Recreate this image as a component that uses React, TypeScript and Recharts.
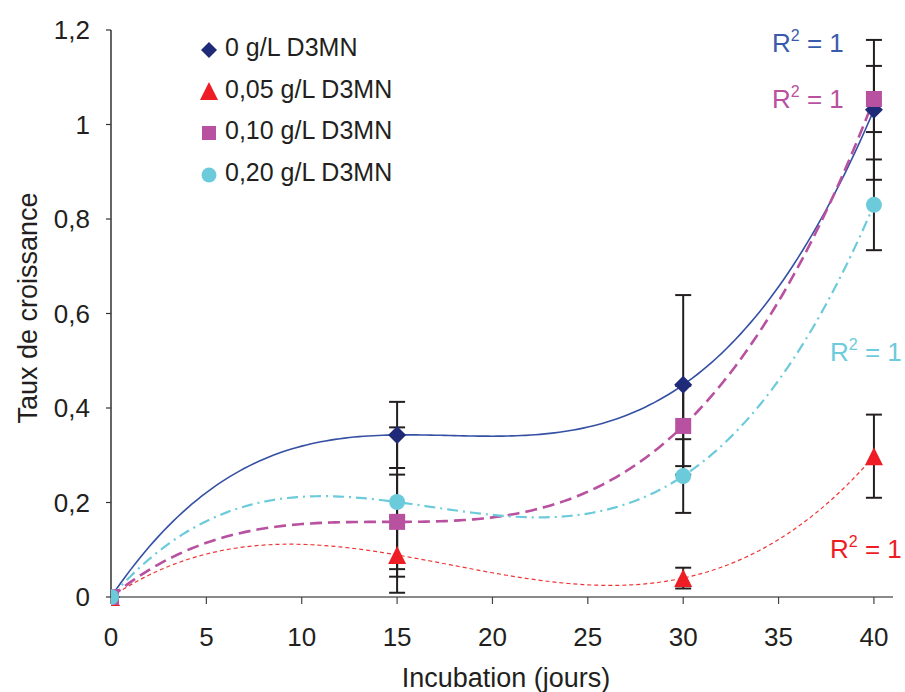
import React from 'react';
import { ComposedChart, Line, Scatter, XAxis, YAxis, ErrorBar } from 'recharts';

// ---- data ----
const days = [0, 15, 30, 40];
const s0Values = [0, 0.343, 0.449, 1.031];
const s0Errors = [0, 0.07, 0.19, 0.148];
const s005Values = [0, 0.089, 0.04, 0.298];
const s005Errors = [0, 0.08, 0.022, 0.088];
const s010Values = [0, 0.159, 0.362, 1.054];
const s010Errors = [0, 0.1, 0.085, 0.07];
const s020Values = [0, 0.201, 0.256, 0.83];
const s020Errors = [0, 0.158, 0.078, 0.096];

const seriesNames = ['0 g/L D3MN', '0,05 g/L D3MN', '0,10 g/L D3MN', '0,20 g/L D3MN'];
const xTicks = [0, 5, 10, 15, 20, 25, 30, 35, 40];
const yTicks = [0, 0.2, 0.4, 0.6, 0.8, 1, 1.2];

const FONT = '"Liberation Sans", Arial, Helvetica, sans-serif';
const TEXT = '#231f20';

// polynomial (order 3) trendline, as the original spreadsheet computes it
function polyFit(xs: number[], ys: number[], order: number): number[] {
  const n = order + 1;
  const A: number[][] = [];
  for (let r = 0; r < n; r++) {
    const row: number[] = [];
    for (let c = 0; c < n; c++) {
      let s = 0;
      xs.forEach((x) => (s += Math.pow(x, r + c)));
      row.push(s);
    }
    let b = 0;
    xs.forEach((x, i) => (b += ys[i] * Math.pow(x, r)));
    row.push(b);
    A.push(row);
  }
  for (let i = 0; i < n; i++) {
    let p = i;
    for (let k = i + 1; k < n; k++) if (Math.abs(A[k][i]) > Math.abs(A[p][i])) p = k;
    [A[i], A[p]] = [A[p], A[i]];
    for (let k = i + 1; k < n; k++) {
      const f = A[k][i] / A[i][i];
      for (let c = i; c <= n; c++) A[k][c] -= f * A[i][c];
    }
  }
  const coef = new Array(n).fill(0);
  for (let i = n - 1; i >= 0; i--) {
    let s = A[i][n];
    for (let c = i + 1; c < n; c++) s -= A[i][c] * coef[c];
    coef[i] = s / A[i][i];
  }
  return coef;
}

function trend(ys: number[]) {
  const coef = polyFit(days, ys, 3);
  const out: { x: number; y: number }[] = [];
  for (let i = 0; i <= 160; i++) {
    const x = (i * 40) / 160;
    let y = 0;
    coef.forEach((c, k) => (y += c * Math.pow(x, k)));
    out.push({ x, y });
  }
  return out;
}

function points(ys: number[], errs: number[]) {
  return days.map((d, i) => ({ x: d, y: ys[i], err: errs[i] }));
}

const COLORS = {
  blueLine: '#3550a3',
  blueMark: '#1f2a78',
  red: '#ee1c24',
  redLine: '#ef3535',
  magenta: '#b8519f',
  cyan: '#6ccbdb',
};

const Diamond = ({ cx, cy, r = 9 }: any) => (
  <polygon points={`${cx},${cy - r} ${cx + r},${cy} ${cx},${cy + r} ${cx - r},${cy}`} fill={COLORS.blueMark} />
);
const Triangle = ({ cx, cy, r = 9 }: any) => (
  <polygon points={`${cx},${cy - r} ${cx + r},${cy + r} ${cx - r},${cy + r}`} fill={COLORS.red} />
);
const Square = ({ cx, cy, r = 8 }: any) => (
  <rect x={cx - r} y={cy - r} width={2 * r} height={2 * r} fill={COLORS.magenta} />
);
const Circle = ({ cx, cy, r = 8 }: any) => <circle cx={cx} cy={cy} r={r} fill={COLORS.cyan} />;
const Nothing = () => <g />;

const yFmt = (v: number) => String(v).replace('.', ',');

export default function App() {
  const d0 = points(s0Values, s0Errors);
  const d005 = points(s005Values, s005Errors);
  const d010 = points(s010Values, s010Errors);
  const d020 = points(s020Values, s020Errors);

  return (
    <div style={{ position: 'absolute', left: 0, top: 0, width: 905, height: 692, background: '#fff', fontFamily: FONT }}>
      <ComposedChart width={905} height={692} margin={{ top: 30, right: 12, bottom: 35, left: 11 }}>
        <XAxis
          type="number"
          dataKey="x"
          domain={[0, 41]}
          allowDataOverflow
          ticks={xTicks}
          interval={0}
          tickSize={7}
          tickMargin={24}
          height={60}
          axisLine={{ stroke: '#8a8a8a', strokeWidth: 2 }}
          tickLine={{ stroke: '#444', strokeWidth: 1.2 }}
          tick={{ fill: TEXT, fontSize: 26, fontFamily: FONT }}
        />
        <YAxis
          type="number"
          domain={[0, 1.2]}
          ticks={yTicks}
          interval={0}
          width={100}
          tickSize={5}
          tickMargin={16}
          tickFormatter={yFmt}
          axisLine={{ stroke: '#333', strokeWidth: 1.5 }}
          tickLine={{ stroke: '#333', strokeWidth: 1.2 }}
          tick={{ fill: TEXT, fontSize: 26, fontFamily: FONT }}
        />
        <Line data={trend(s0Values)} dataKey="y" type="linear" stroke={COLORS.blueLine} strokeWidth={1.6} dot={false} activeDot={false} isAnimationActive={false} />
        <Line data={trend(s005Values)} dataKey="y" type="linear" stroke={COLORS.redLine} strokeWidth={1.2} strokeDasharray="4 3" dot={false} activeDot={false} isAnimationActive={false} />
        <Line data={trend(s010Values)} dataKey="y" type="linear" stroke={COLORS.magenta} strokeWidth={2.6} strokeDasharray="12 6" dot={false} activeDot={false} isAnimationActive={false} />
        <Line data={trend(s020Values)} dataKey="y" type="linear" stroke={COLORS.cyan} strokeWidth={2.2} strokeDasharray="11 5 2 5" dot={false} activeDot={false} isAnimationActive={false} />

        <Scatter data={d0} dataKey="y" shape={Nothing} isAnimationActive={false}>
          <ErrorBar dataKey="err" direction="y" width={8} stroke="#231f20" strokeWidth={2} />
        </Scatter>
        <Scatter data={d005} dataKey="y" shape={Nothing} isAnimationActive={false}>
          <ErrorBar dataKey="err" direction="y" width={8} stroke="#231f20" strokeWidth={2} />
        </Scatter>
        <Scatter data={d010} dataKey="y" shape={Nothing} isAnimationActive={false}>
          <ErrorBar dataKey="err" direction="y" width={8} stroke="#231f20" strokeWidth={2} />
        </Scatter>
        <Scatter data={d020} dataKey="y" shape={Nothing} isAnimationActive={false}>
          <ErrorBar dataKey="err" direction="y" width={8} stroke="#231f20" strokeWidth={2} />
        </Scatter>

        <Scatter name={seriesNames[0]} data={d0} dataKey="y" shape={(p: any) => <Diamond cx={p.cx} cy={p.cy} />} isAnimationActive={false} />
        <Scatter name={seriesNames[1]} data={d005} dataKey="y" shape={(p: any) => <Triangle cx={p.cx} cy={p.cy} />} isAnimationActive={false} />
        <Scatter name={seriesNames[2]} data={d010} dataKey="y" shape={(p: any) => <Square cx={p.cx} cy={p.cy} />} isAnimationActive={false} />
        <Scatter name={seriesNames[3]} data={d020} dataKey="y" shape={(p: any) => <Circle cx={p.cx} cy={p.cy} />} isAnimationActive={false} />
      </ComposedChart>

      <svg width={905} height={692} style={{ position: 'absolute', left: 0, top: 0, pointerEvents: 'none' }}>
        <text transform="translate(37,308) rotate(-90)" textAnchor="middle" fontSize={27} fill={TEXT} fontFamily={FONT}>
          Taux de croissance
        </text>
        <text x={506} y={687} textAnchor="middle" fontSize={27} fill={TEXT} fontFamily={FONT}>
          Incubation (jours)
        </text>

        {/* legend */}
        <Diamond cx={209} cy={50} r={8} />
        <Triangle cx={209} cy={91} r={9} />
        <Square cx={209} cy={133} r={7} />
        <Circle cx={209} cy={175} r={7.5} />
        {seriesNames.map((n, i) => (
          <text key={n} x={225} y={[56, 98, 139, 181][i]} fontSize={25} fill={TEXT} fontFamily={FONT}>
            {n}
          </text>
        ))}

        {/* R² labels */}
        {[
          { x: 772, y: 52, c: '#3a5bab' },
          { x: 772, y: 108, c: '#b9519f' },
          { x: 830, y: 361, c: '#6ccbdc' },
          { x: 830, y: 558, c: '#ee1c24' },
        ].map((r, i) => (
          <text key={i} x={r.x} y={r.y} fontSize={26} fill={r.c} fontFamily={FONT}>
            R<tspan dy={-11} fontSize={16}>2</tspan>
            <tspan dy={11}> = 1</tspan>
          </text>
        ))}
      </svg>
    </div>
  );
}
